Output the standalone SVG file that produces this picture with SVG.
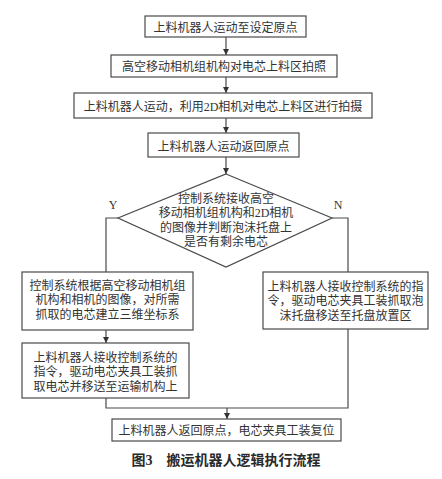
<svg xmlns="http://www.w3.org/2000/svg" width="442" height="479" viewBox="0 0 442 479">
<style>
.box{fill:#fff;stroke:#4a4a4a;stroke-width:1.2}
.ln{fill:none;stroke:#4a4a4a;stroke-width:1.2}
text{font-family:"Liberation Serif","Noto Sans CJK SC",serif;font-size:12px;fill:#333;text-anchor:middle}
.cap{font-size:14px;font-weight:bold;fill:#2a2a2a}
</style>
<defs>
<marker id="ah" markerWidth="6" markerHeight="6" refX="6" refY="3" orient="auto" markerUnits="userSpaceOnUse">
<path d="M0,0 L6,3 L0,6 z" fill="#333"/>
</marker>
</defs>
<rect width="442" height="479" fill="#fff"/>
<g id="connectors">
<line class="ln" x1="226" y1="37" x2="226" y2="55" marker-end="url(#ah)"/>
<line class="ln" x1="226" y1="77" x2="226" y2="93" marker-end="url(#ah)"/>
<line class="ln" x1="226" y1="118" x2="226" y2="133" marker-end="url(#ah)"/>
<line class="ln" x1="226" y1="157" x2="226" y2="174" marker-end="url(#ah)"/>
<polyline class="ln" points="118,218 106,218 106,272"/>
<polyline class="ln" points="332,218 348,218 348,272"/>
<line class="ln" x1="106" y1="330" x2="106" y2="343" marker-end="url(#ah)"/>
<polyline class="ln" points="106,398 106,408 348,408 348,329"/>
<line class="ln" x1="227" y1="408" x2="227" y2="419" marker-end="url(#ah)"/>
</g>
<g id="n1"><rect class="box" x="145" y="16" width="161" height="21"/><text x="225.5" y="32">上料机器人运动至设定原点</text></g>
<g id="n2"><rect class="box" x="111" y="55" width="226" height="22"/><text x="224" y="71">高空移动相机组机构对电芯上料区拍照</text></g>
<g id="n3"><rect class="box" x="74" y="93" width="298" height="25"/><text x="223" y="111">上料机器人运动，利用2D相机对电芯上料区进行拍摄</text></g>
<g id="n4"><rect class="box" x="148" y="133" width="151" height="24"/><text x="223.5" y="151">上料机器人运动返回原点</text></g>
<g id="n5">
<polygon class="box" points="226,174 332,218 226,267 118,218"/>
<text x="226" y="202.5">控制系统接收高空</text>
<text x="226" y="217">移动相机组机构和2D相机</text>
<text x="226" y="231.5">的图像并判断泡沫托盘上</text>
<text x="226" y="246">是否有剩余电芯</text>
</g>
<g id="labels"><text x="113" y="209">Y</text><text x="338" y="209">N</text></g>
<g id="n6"><rect class="box" x="22" y="272" width="171" height="58"/>
<text x="107.5" y="289.5">控制系统根据高空移动相机组</text>
<text x="107.5" y="304">机构和相机的图像，对所需</text>
<text x="107.5" y="318.5">抓取的电芯建立三维坐标系</text></g>
<g id="n7"><rect class="box" x="263" y="272" width="165" height="57"/>
<text x="345.5" y="290.5">上料机器人接收控制系统的指</text>
<text x="345.5" y="305">令，驱动电芯夹具工装抓取泡</text>
<text x="345.5" y="319.5">沫托盘移送至托盘放置区</text></g>
<g id="n8"><rect class="box" x="22" y="343" width="167" height="55"/>
<text x="105.5" y="361.5">上料机器人接收控制系统的</text>
<text x="105.5" y="376">指令，驱动电芯夹具工装抓</text>
<text x="105.5" y="390.5">取电芯并移送至运输机构上</text></g>
<g id="n9"><rect class="box" x="112" y="419" width="229" height="22"/><text x="226.5" y="434.5">上料机器人返回原点，电芯夹具工装复位</text></g>
<text class="cap" x="226" y="465">图3　搬运机器人逻辑执行流程</text>
</svg>
